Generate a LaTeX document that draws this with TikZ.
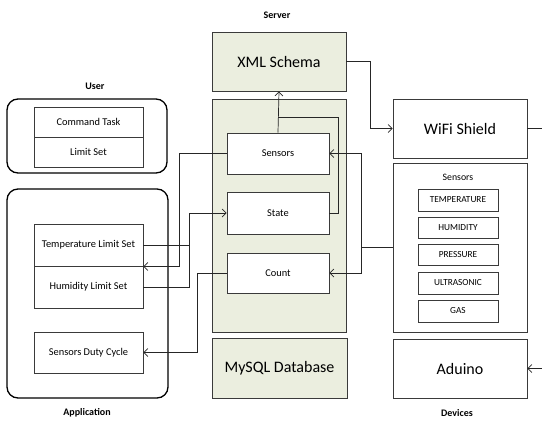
\documentclass[tikz,border=0pt]{standalone}
\usepackage{fontspec}
\setmainfont{Carlito}
\usetikzlibrary{arrows.meta}
\definecolor{srvfill}{HTML}{EBEEDF}
\definecolor{edge}{HTML}{3A3A3A}
\begin{document}
\begin{tikzpicture}[x=1pt,y=-1pt,
  box/.style={draw=edge, line width=0.9pt, inner sep=0pt, fill=white, font=\fontsize{10.4}{12}\selectfont},
  bigbox/.style={box, font=\fontsize{16}{19}\selectfont},
  srv/.style={fill=srvfill},
  round/.style={draw=black, line width=1.3pt, rounded corners=11pt, inner sep=0pt},
  small/.style={box, line width=0.8pt, font=\fontsize{9.3}{11}\selectfont},
  title/.style={font=\bfseries\fontsize{10}{12}\selectfont, inner sep=0pt},
  conn/.style={draw=black!85, line width=0.7pt},
  arr/.style={conn, -{Straight Barb[length=4pt,width=8pt]}}]
\useasboundingbox (0,0) rectangle (542,424);
% User
\node[title] (tUser) at (95,86) {User};
\node[round, minimum width=160pt, minimum height=74pt] (user) at (87,136) {};
\node[box, minimum width=109pt, minimum height=30pt] (cmd) at (88.5,122) {Command Task};
\node[box, minimum width=109pt, minimum height=30pt] (lim) at (88.5,152) {Limit Set};
% Application
\node[round, minimum width=161pt, minimum height=209pt] (app) at (87.5,293.5) {};
\node[box, minimum width=109pt, minimum height=42pt] (temp) at (88.5,245) {Temperature Limit Set};
\node[box, minimum width=109pt, minimum height=42pt] (hum) at (88.5,287) {Humidity Limit Set};
\node[box, minimum width=109pt, minimum height=41pt] (duty) at (88.5,352.5) {Sensors Duty Cycle};
\node[title] (tApp) at (87,413) {Application};
% Server
\node[title] (tSrv) at (277,15) {Server};
\node[bigbox, srv, minimum width=134pt, minimum height=59pt] (xml) at (279,61.5) {XML Schema};
\node[box, srv, minimum width=134pt, minimum height=233pt] (srvbox) at (279,215.5) {};
\node[box, minimum width=102pt, minimum height=41pt] (sensS) at (278,153.5) {Sensors};
\node[box, minimum width=102pt, minimum height=42pt] (state) at (278,213) {State};
\node[box, minimum width=102pt, minimum height=40pt] (count) at (278,273) {Count};
\node[bigbox, srv, minimum width=135pt, minimum height=60pt] (mysql) at (279.5,368) {MySQL Database};
% Devices
\node[bigbox, minimum width=134pt, minimum height=59pt] (wifi) at (460,128.5) {WiFi Shield};
\node[box, minimum width=134pt, minimum height=169pt] (sensD) at (460,247.5) {};
\node[inner sep=0pt, font=\fontsize{9.8}{11}\selectfont] (tSens) at (458,177) {Sensors};
\node[small, minimum width=80pt, minimum height=22pt] (s1) at (458,200) {TEMPERATURE};
\node[small, minimum width=80pt, minimum height=21pt] (s2) at (458,227.5) {HUMIDITY};
\node[small, minimum width=80pt, minimum height=21pt] (s3) at (458,254.5) {PRESSURE};
\node[small, minimum width=80pt, minimum height=22pt] (s4) at (458,283) {ULTRASONIC};
\node[small, minimum width=80pt, minimum height=22pt] (s5) at (458,311) {GAS};
\node[bigbox, minimum width=134pt, minimum height=59pt] (adu) at (460,368.5) {Aduino};
\node[title] (tDev) at (457,413) {Devices};
% connectors
\draw[arr] (xml.east) -- ++(24,0) |- (wifi.west);
\coordinate (wr) at (542,128.5);
\draw[conn] (wifi.east) -- (wr);
\coordinate (ar) at (542,368.5);
\draw[arr] (ar) -- (adu.east);
\draw[arr] (sensS.north) -- (xml.south);
\coordinate (j1) at (278,117);
\draw[conn] (state.east) -- ++(9,0) |- (j1);
\draw[arr] (sensD.west) -- ++(-31,0) coordinate (v) |- (sensS.east);
\draw[arr] (v) |- (count.east);
\draw[arr] (sensS.west) -- ++(-47,0) |- (temp.south east);
\draw[arr] (temp.east) -- ++(46,0) coordinate (t) |- (state.west);
\draw[conn] (hum.east) -| (t);
\draw[arr] (count.west) -- ++(-29,0) |- (duty.east);
\end{tikzpicture}
\end{document}
